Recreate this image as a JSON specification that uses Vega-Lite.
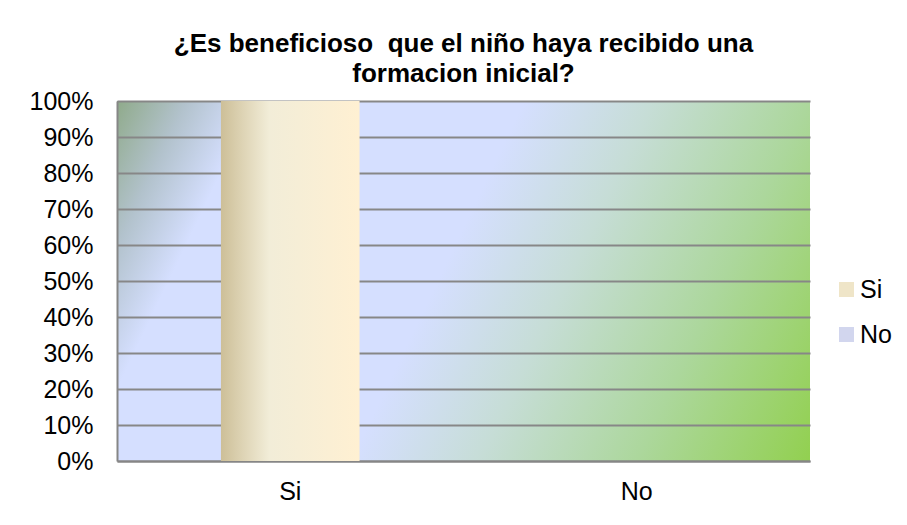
{
  "$schema": "https://vega.github.io/schema/vega-lite/v6.json",
  "width": 693,
  "height": 360,
  "autosize": {"type": "none"},
  "padding": {"left": 117, "top": 101, "right": 97, "bottom": 64},
  "background": "white",
  "config": {
    "font": "Liberation Sans",
    "view": {
      "stroke": null,
      "fill": {
        "gradient": "linear",
        "x1": 0, "y1": 0, "x2": 1.176, "y2": 0.294,
        "stops": [
          {"offset": 0, "color": "#8faa8a"},
          {"offset": 0.08, "color": "#b2c2cc"},
          {"offset": 0.16, "color": "#d5dfff"},
          {"offset": 0.47, "color": "#d5dfff"},
          {"offset": 0.62, "color": "#c6ddd6"},
          {"offset": 0.8, "color": "#acd79c"},
          {"offset": 1, "color": "#92d050"}
        ]
      }
    }
  },
  "title": {
    "text": ["¿Es beneficioso\u00a0 que el niño haya recibido una", "formacion inicial?"],
    "fontSize": 26,
    "fontWeight": "bold",
    "color": "#000000",
    "anchor": "middle",
    "offset": 2,
    "lineHeight": 30
  },
  "data": {
    "values": [
      {"respuesta": "Si", "valor": 1},
      {"respuesta": "No", "valor": 0}
    ]
  },
  "encoding": {
    "x": {
      "field": "respuesta",
      "type": "nominal",
      "sort": ["Si", "No"],
      "scale": {"paddingInner": 0, "paddingOuter": 0},
      "axis": {
        "title": null,
        "labelAngle": 0,
        "labelFontSize": 25,
        "labelColor": "#000000",
        "labelPadding": 18,
        "ticks": false,
        "domainColor": "#868686",
        "domainWidth": 2,
        "grid": false
      }
    },
    "y": {
      "field": "valor",
      "type": "quantitative",
      "scale": {"domain": [0, 1], "nice": false},
      "axis": {
        "title": null,
        "values": [0, 0.1, 0.2, 0.3, 0.4, 0.5, 0.6, 0.7, 0.8, 0.9, 1],
        "format": ".0%",
        "labelFontSize": 25,
        "labelColor": "#000000",
        "labelPadding": 24,
        "ticks": false,
        "domainColor": "#868686",
        "domainWidth": 2,
        "grid": true,
        "gridColor": "#878787",
        "gridWidth": 2,
        "gridOpacity": 1
      }
    }
  },
  "layer": [
    {
      "mark": {
        "type": "bar",
        "width": {"band": 0.4},
        "fill": {
          "gradient": "linear", "x1": 0, "y1": 0, "x2": 1, "y2": 0,
          "stops": [
            {"offset": 0, "color": "#cdbf98"},
            {"offset": 0.35, "color": "#f2edd8"},
            {"offset": 1, "color": "#fff0d2"}
          ]
        }
      }
    },
    {
      "mark": {"type": "square", "opacity": 0},
      "encoding": {
        "color": {
          "field": "respuesta",
          "type": "nominal",
          "scale": {"domain": ["Si", "No"], "range": ["#efe5c8", "#d2d6ee"]},
          "legend": {
            "title": null,
            "orient": "none",
            "legendX": 717,
            "legendY": 176,
            "symbolType": "square",
            "symbolSize": 225,
            "symbolStrokeWidth": 0,
            "symbolOpacity": 1,
            "labelFontSize": 25,
            "labelColor": "#000000",
            "labelOffset": 1,
            "rowPadding": 19
          }
        }
      }
    }
  ]
}
